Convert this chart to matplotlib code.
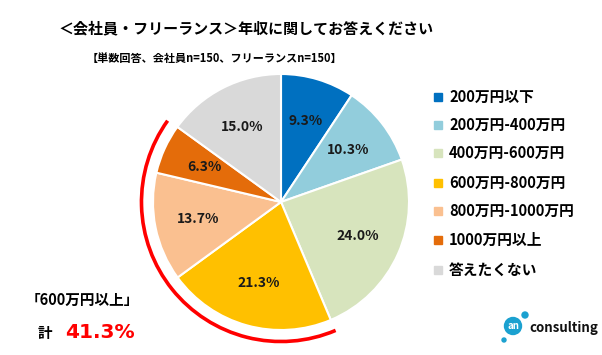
import numpy as np
import matplotlib.pyplot as plt
from matplotlib.patches import Arc, Circle

plt.rcParams['font.family'] = ['Noto Sans CJK JP', 'DejaVu Sans']

# data
labels = ['200万円以下', '200万円-400万円', '400万円-600万円', '600万円-800万円',
          '800万円-1000万円', '1000万円以上', '答えたくない']
values = [9.3, 10.3, 24.0, 21.3, 13.7, 6.3, 15.0]
colors = ['#0070C0', '#92CDDC', '#D7E4BD', '#FFC000', '#FAC090', '#E46C0A', '#D9D9D9']
title = '＜会社員・フリーランス＞年収に関してお答えください'
subtitle = '【単数回答、会社員n=150、フリーランスn=150】'
over600 = values[3] + values[4] + values[5]

W, H = 602, 355
fig = plt.figure(figsize=(W/100, H/100), dpi=100)

# pie axes: centre (281,202), radius 128 px
R = 128
cx, cy = 281, 202
ax = fig.add_axes([(cx-R*1.2)/W, 1-(cy+R*1.2)/H, R*2.4/W, R*2.4/H])
wedges, texts, autotexts = ax.pie(values, colors=colors, startangle=90, counterclock=False,
                                  autopct=lambda p: f'{p:.1f}%', pctdistance=0.66,
                                  wedgeprops=dict(edgecolor='white', linewidth=1.5),
                                  textprops=dict(fontsize=10, fontweight='bold', color='#1a1a1a'))
ax.set_xlim(-1.2, 1.2)
ax.set_ylim(-1.2, 1.2)
ax.set_aspect('equal')

# red arc around the 600万円以上 wedges
start = sum(values[:3]) / 100 * 360
end = (sum(values[:3]) + over600) / 100 * 360
t1 = (90 - end) % 360
t2 = (90 - start) % 360
if t2 < t1:
    t2 += 360
ax.add_patch(Arc((0, 0), 2*1.09, 2*1.09, theta1=t1, theta2=t2,
                 color='#FF0000', linewidth=2.6, clip_on=False))

# titles
fig.text(246/W, 1-28/H, title, ha='center', va='center', fontsize=10.8, fontweight='bold')
fig.text(214/W, 1-58/H, subtitle, ha='center', va='center', fontsize=8, fontweight='bold')

# legend
ys = [97, 125, 153, 183, 211, 240, 270]
for lab, col, y in zip(labels, colors, ys):
    fig.patches.append(plt.Rectangle(((438-4)/W, 1-(y+4)/H), 8/W, 8/H, color=col,
                                     transform=fig.transFigure, figure=fig))
    fig.text(449/W, 1-y/H, lab, ha='left', va='center', fontsize=10.6, fontweight='bold')

# bottom-left note
fig.text(82/W, 1-300/H, '「600万円以上」', ha='center', va='center', fontsize=10.5, fontweight='bold')
fig.text(38/W, 1-333/H, '計', ha='left', va='center', fontsize=10.5, fontweight='bold')
fig.text(65/W, 1-333/H, f'{over600:.1f}%', ha='left', va='center', fontsize=14.5,
         fontweight='bold', color='#FF0000', family='DejaVu Sans')

# logo
lax = fig.add_axes([0, 0, 1, 1], facecolor='none')
lax.set_xlim(0, W)
lax.set_ylim(H, 0)
lax.axis('off')
lax.add_patch(Circle((513, 326), 8.5, color='#1BA1D0'))
lax.add_patch(Circle((525, 315), 3, color='#1BA1D0'))
lax.add_patch(Circle((504, 340), 2, color='#1BA1D0'))
lax.text(513, 326, 'an', ha='center', va='center', color='white', fontsize=7, fontweight='bold')
lax.text(529, 328, 'consulting', ha='left', va='center', fontsize=9.5, fontweight='bold', color='#111111')

fig.savefig('out.png', dpi=100)
